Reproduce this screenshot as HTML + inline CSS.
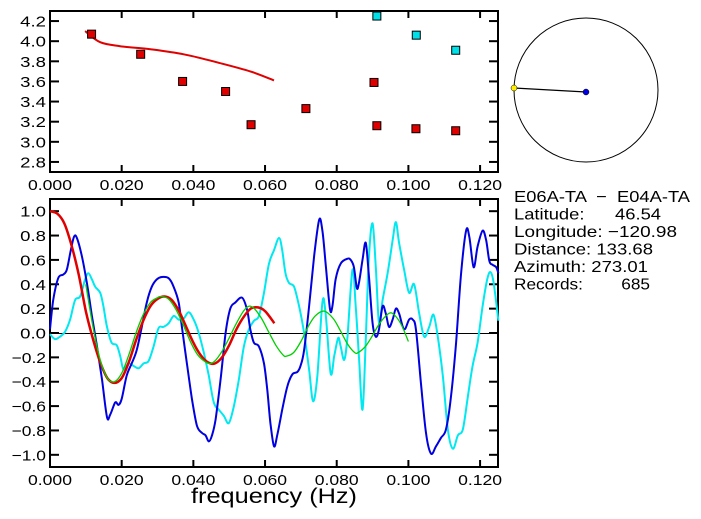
<!DOCTYPE html>
<html><head><meta charset="utf-8"><style>
html,body{margin:0;padding:0;background:#fff;}
svg{display:block;font-family:"Liberation Sans",sans-serif;}
</style></head><body>
<svg id="c" width="701" height="519" xmlns="http://www.w3.org/2000/svg"></svg>
<script>
const xTicks=[0,0.02,0.04,0.06,0.08,0.1,0.12];
const xTickLabels=["0.000","0.020","0.040","0.060","0.080","0.100","0.120"];
const topYTicks=[2.8,3.0,3.2,3.4,3.6,3.8,4.0,4.2];
const botYTicks=[-1.0,-0.8,-0.6,-0.4,-0.2,0.0,0.2,0.4,0.6,0.8,1.0];
const redSqF=[0.0116,0.0253,0.0370,0.0490,0.0561,0.0714,0.0904,0.0912,0.1021,0.1132];
const redSqV=[4.07,3.87,3.60,3.50,3.17,3.33,3.59,3.16,3.13,3.11];
const cyanSqF=[0.0912,0.1022,0.1132];
const cyanSqV=[4.25,4.06,3.91];
const velF=[0.0098,0.0140,0.0196,0.0280,0.0373,0.0466,0.0559,0.0625];
const velV=[4.10,3.99,3.95,3.92,3.87,3.79,3.70,3.61];
const blueF=[0,0.0009,0.0023,0.0037,0.0047,0.0058,0.0067,0.0075,0.0089,0.0103,0.0117,0.0131,0.0145,0.0159,0.0168,0.0182,0.0191,0.0200,0.0214,0.0228,0.0242,0.0256,0.0270,0.0284,0.0298,0.0312,0.0331,0.0345,0.0359,0.0368,0.0382,0.0396,0.0410,0.0424,0.0434,0.0443,0.0452,0.0462,0.0476,0.0490,0.0503,0.0517,0.0536,0.0550,0.0559,0.0569,0.0583,0.0597,0.0606,0.0615,0.0625,0.0634,0.0648,0.0662,0.0676,0.0690,0.0699,0.0709,0.0723,0.0737,0.0751,0.0760,0.0769,0.0781,0.0788,0.0797,0.0811,0.0830,0.0839,0.0848,0.0856,0.0862,0.0872,0.0881,0.0890,0.0900,0.0909,0.0918,0.0928,0.0937,0.0946,0.0956,0.0965,0.0974,0.0988,0.1002,0.1012,0.1021,0.1035,0.1049,0.1063,0.1077,0.1091,0.1105,0.1119,0.1133,0.1147,0.1161,0.1170,0.1182,0.1193,0.1207,0.1217,0.1226,0.1235,0.1245,0.1251];
const blueV=[0.03,0.27,0.45,0.48,0.52,0.68,0.79,0.78,0.63,0.41,0.14,-0.11,-0.38,-0.69,-0.67,-0.57,-0.59,-0.54,-0.35,-0.25,-0.14,0.05,0.25,0.38,0.44,0.46,0.45,0.38,0.25,0.05,-0.25,-0.54,-0.76,-0.82,-0.84,-0.89,-0.84,-0.71,-0.38,0.00,0.20,0.25,0.29,0.19,0.03,-0.08,-0.11,-0.25,-0.46,-0.74,-0.93,-0.84,-0.63,-0.44,-0.34,-0.32,-0.27,-0.14,0.22,0.63,0.93,0.84,0.57,0.20,0.22,0.44,0.57,0.61,0.60,0.54,0.37,0.41,0.60,0.74,0.46,0.08,-0.03,0.03,0.22,0.16,0.05,0.11,0.20,0.16,0.03,0.11,0.11,0.03,-0.41,-0.82,-0.99,-0.93,-0.86,-0.79,-0.52,-0.08,0.49,0.84,0.79,0.54,0.71,0.84,0.76,0.59,0.56,0.54,0.49];
const cyanF=[0,0.0014,0.0028,0.0042,0.0056,0.0070,0.0084,0.0098,0.0107,0.0117,0.0126,0.0140,0.0149,0.0159,0.0172,0.0186,0.0196,0.0205,0.0219,0.0233,0.0247,0.0261,0.0275,0.0289,0.0303,0.0317,0.0331,0.0345,0.0359,0.0373,0.0387,0.0401,0.0415,0.0429,0.0443,0.0457,0.0471,0.0485,0.0499,0.0513,0.0527,0.0541,0.0555,0.0569,0.0583,0.0597,0.0611,0.0625,0.0639,0.0648,0.0657,0.0667,0.0681,0.0695,0.0709,0.0723,0.0734,0.0746,0.0760,0.0769,0.0783,0.0793,0.0804,0.0811,0.0821,0.0830,0.0844,0.0853,0.0862,0.0872,0.0881,0.0890,0.0900,0.0909,0.0918,0.0928,0.0942,0.0956,0.0965,0.0974,0.0988,0.1002,0.1016,0.1030,0.1044,0.1058,0.1070,0.1082,0.1096,0.1110,0.1124,0.1138,0.1152,0.1166,0.1179,0.1193,0.1207,0.1220,0.1229,0.1238,0.1251];
const cyanV=[-0.01,-0.05,-0.03,0.01,0.11,0.27,0.30,0.44,0.49,0.44,0.38,0.33,0.22,0.05,-0.08,-0.10,-0.19,-0.30,-0.25,-0.27,-0.29,-0.25,-0.23,-0.11,0.04,0.05,0.08,0.14,0.11,0.12,0.17,0.11,0.00,-0.16,-0.35,-0.57,-0.63,-0.68,-0.74,-0.60,-0.38,-0.11,0.03,0.10,0.14,0.33,0.57,0.68,0.78,0.68,0.49,0.41,0.38,0.22,0.00,-0.30,-0.56,-0.35,0.25,0.16,-0.33,-0.19,-0.04,-0.11,-0.22,-0.03,0.52,0.22,-0.19,-0.63,-0.05,0.63,0.90,0.54,0.08,0.27,0.49,0.76,0.91,0.74,0.52,0.33,0.40,0.16,-0.03,0.05,0.15,-0.03,-0.35,-0.79,-0.95,-0.84,-0.79,-0.52,-0.27,-0.08,0.22,0.44,0.50,0.41,0.10];
const redF=[0,0.002,0.004,0.006,0.008,0.010,0.012,0.014,0.016,0.018,0.020,0.022,0.024,0.026,0.028,0.030,0.032,0.034,0.036,0.038,0.040,0.042,0.044,0.046,0.048,0.050,0.052,0.054,0.056,0.058,0.060,0.0626];
const redV=[1.0,0.98,0.90,0.72,0.48,0.18,-0.05,-0.24,-0.37,-0.41,-0.37,-0.24,-0.06,0.10,0.22,0.28,0.30,0.27,0.18,0.05,-0.08,-0.18,-0.24,-0.25,-0.20,-0.10,0.03,0.13,0.20,0.21,0.18,0.08];
const greenF=[0.010,0.012,0.014,0.016,0.018,0.020,0.022,0.024,0.026,0.028,0.030,0.031,0.033,0.035,0.037,0.039,0.041,0.043,0.0445,0.046,0.048,0.050,0.052,0.054,0.0555,0.057,0.059,0.061,0.063,0.065,0.066,0.068,0.070,0.072,0.074,0.0765,0.079,0.081,0.083,0.085,0.086,0.088,0.090,0.092,0.0945,0.096,0.098,0.100];
const greenV=[0.40,0.05,-0.22,-0.37,-0.40,-0.33,-0.18,0.00,0.15,0.25,0.29,0.30,0.28,0.20,0.08,-0.06,-0.17,-0.23,-0.25,-0.23,-0.15,-0.04,0.08,0.18,0.22,0.20,0.12,0.01,-0.10,-0.18,-0.19,-0.16,-0.07,0.05,0.14,0.18,0.12,0.02,-0.09,-0.16,-0.16,-0.11,-0.02,0.08,0.16,0.15,0.07,-0.07];
const infoLines=["E06A-TA  \u2212  E04A-TA","Latitude:      46.54","Longitude: \u2212120.98","Distance: 133.68","Azimuth: 273.01","Records:        685"];
const infoWidths=[176,147,163,139,134,136];

const NS="http://www.w3.org/2000/svg";
const svg=document.getElementById('c');
function mk(tag,attrs,parent){const e=document.createElementNS(NS,tag);for(const k in attrs)e.setAttribute(k,attrs[k]);(parent||svg).appendChild(e);return e;}
const L=50,R=498,XMAX=0.125;
const sx=f=>L+(R-L)*f/XMAX;
const T1=11,B1=172,Y1MIN=2.7,Y1MAX=4.3;
const sy1=v=>B1-(B1-T1)*(v-Y1MIN)/(Y1MAX-Y1MIN);
const T2=199,B2=467,Y2MIN=-1.1,Y2MAX=1.1;
const sy2=v=>B2-(B2-T2)*(v-Y2MIN)/(Y2MAX-Y2MIN);

function frame(T,B,yt,sy,fmt,name){
  const g=mk('g',{});
  
  
  const r=mk('rect',{x:L,y:T,width:R-L,height:B-T,fill:'none',stroke:'#000','stroke-width':2},g);
  
  
  xTicks.forEach((t,i)=>{const x=sx(t);
    mk('line',{x1:x,y1:B,x2:x,y2:B-7,stroke:'#000','stroke-width':2},g);
    mk('line',{x1:x,y1:T,x2:x,y2:T+7,stroke:'#000','stroke-width':2},g);
    const tx=mk('text',{x:x,y:B+18,'font-size':15,'text-anchor':'middle',textLength:44,lengthAdjust:'spacingAndGlyphs'},g);
    tx.textContent=xTickLabels[i];
    
    
  });
  yt.forEach(t=>{const y=sy(t);
    mk('line',{x1:L,y1:y,x2:L+9,y2:y,stroke:'#000','stroke-width':2},g);
    mk('line',{x1:R,y1:y,x2:R-9,y2:y,stroke:'#000','stroke-width':2},g);
    const s=fmt(t);
    const tx=mk('text',{x:46,y:y+5.5,'font-size':15,'text-anchor':'end',textLength:s.length*8.6,lengthAdjust:'spacingAndGlyphs'},g);
    tx.textContent=s;
    
    
  });
}
function smoothPath(F,V,sy){
  const p=F.map((f,i)=>[sx(f),sy(V[i])]);
  let d='M'+p[0][0].toFixed(1)+','+p[0][1].toFixed(1);
  for(let i=0;i<p.length-1;i++){
    const p0=p[Math.max(0,i-1)],p1=p[i],p2=p[i+1],p3=p[Math.min(p.length-1,i+2)];
    const c1=[p1[0]+(p2[0]-p0[0])/6,p1[1]+(p2[1]-p0[1])/6];
    const c2=[p2[0]-(p3[0]-p1[0])/6,p2[1]-(p3[1]-p1[1])/6];
    d+=' C'+c1.map(v=>v.toFixed(1)).join(',')+' '+c2.map(v=>v.toFixed(1)).join(',')+' '+p2[0].toFixed(1)+','+p2[1].toFixed(1);
  }
  return d;
}
frame(T1,B1,topYTicks,sy1,t=>t.toFixed(1),'velocity-plot');
frame(T2,B2,botYTicks,sy2,t=>(t<0?'\u2212':'')+Math.abs(t).toFixed(1),'correlation-plot');

const vl=mk('path',{d:smoothPath(velF,velV,sy1),fill:'none',stroke:'#e00000','stroke-width':2});


redSqF.forEach((f,i)=>{
  const r=mk('rect',{x:sx(f)-4,y:sy1(redSqV[i])-4,width:8,height:8,fill:'#e00000',stroke:'#000','stroke-width':1});
  
  
});
cyanSqF.forEach((f,i)=>{
  const r=mk('rect',{x:sx(f)-4,y:sy1(cyanSqV[i])-4,width:8,height:8,fill:'#00e0e8',stroke:'#000','stroke-width':1});
  
  
});

const zl=mk('line',{x1:L,y1:Math.round(sy2(0))+0.5,x2:R,y2:Math.round(sy2(0))+0.5,stroke:'#000','stroke-width':1});


const series=[[cyanF,cyanV,'#00e8f0',2,'cyan-series'],[blueF,blueV,'#0000e0',2,'blue-series'],[redF,redV,'#e00000',2.5,'red-series'],[greenF,greenV,'#00d000',1.3,'green-series']];
series.forEach(s=>{
  const p=mk('path',{d:smoothPath(s[0],s[1],sy2),fill:'none',stroke:s[2],'stroke-width':s[3]});
  
  
});
const xt=mk('text',{x:274,y:503,'font-size':21,'text-anchor':'middle',textLength:166,lengthAdjust:'spacingAndGlyphs'});
xt.textContent='frequency (Hz)';



const cg=mk('g',{});


mk('circle',{cx:586,cy:90,r:72,fill:'none',stroke:'#000','stroke-width':1},cg);
mk('line',{x1:514,y1:88,x2:586,y2:92,stroke:'#000','stroke-width':1.3},cg);
const ys=mk('circle',{cx:514,cy:88,r:3,fill:'#ffee00',stroke:'#000','stroke-width':0.5},cg);


const bs=mk('circle',{cx:586,cy:92,r:3,fill:'#0000e0',stroke:'#000','stroke-width':0.5},cg);



infoLines.forEach((s,i)=>{
  const t=mk('text',{x:514,y:202+i*17.5,'font-size':16,textLength:infoWidths[i],lengthAdjust:'spacingAndGlyphs'});
  t.setAttribute('style','white-space:pre');
  t.textContent=s;
  
  
});
</script>
</body></html>
